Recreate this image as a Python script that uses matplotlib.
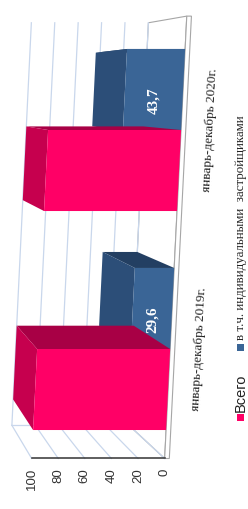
import matplotlib
matplotlib.use("Agg")
import matplotlib.pyplot as plt
from matplotlib.patches import Polygon, Rectangle

# data
categories = ["январь-декабрь 2019г.", "январь-декабрь 2020г."]
series_names = ["Всего", "в т.ч. индивидуальными  застройщиками"]
total = [100, 100]
individual = [29.6, 43.7]
value_labels = ["29,6", "43,7"]
ticks = [0, 20, 40, 60, 80, 100]

# colours: front, top, side
pink = ("#FF0066", "#C6004E", "#A80045")
blue = ("#3A6596", "#2C4E78", "#233F62")
grid_col = "#C9D7EC"

# oblique "3D" view, the whole chart lies on its side (values run right to left)
SKEW = 8.23


def front(v, y):
    return v - SKEW * (y + 0.47), y


def back(v, y):
    vd, yd = front(v, y)
    return vd + 26.9 - 0.12 * vd, yd + 0.1064 - 0.09 * yd


fig = plt.figure(figsize=(2.48, 5.09), dpi=100)
ax = fig.add_axes([0, 0, 1, 1])
ax.set_xlim(124.06, -62.41)
ax.set_ylim(-0.7306, 1.5936)
ax.axis("off")

y_lo, y_hi = -0.5, 1.52

# floor (value = 0 plane) with a thin slab edge
floor = [front(0, y_lo), front(0, y_hi), back(0, y_hi), back(0, y_lo)]
ax.add_patch(Polygon(floor, closed=True, fc="white", ec="#A6A6A6", lw=0.8, zorder=1))
slab = [front(0, y_lo), front(0, y_hi), front(-3.5, y_hi), front(-3.5, y_lo)]
ax.add_patch(Polygon(slab, closed=True, fc="white", ec="#A6A6A6", lw=0.8, zorder=1))

# back wall and side wall grid
for t in ticks:
    (x0, y0), (x1, y1) = back(t, y_lo), back(t, y_hi)
    ax.plot([x0, x1], [y0, y1], color=grid_col, lw=0.9, zorder=2)
    (x2, y2) = front(t, y_lo)
    ax.plot([x2, x0], [y2, y0], color=grid_col, lw=0.9, zorder=2)
(bx0, by0), (bx1, by1) = back(0, y_lo), back(100, y_lo)
ax.plot([bx0, bx1], [by0, by1], color=grid_col, lw=0.9, zorder=2)

# front value axis
(ax0, ay0), (ax1, ay1) = front(0, y_lo), front(100, y_lo)
ax.plot([ax0, ax1], [ay0, ay1], color="#333333", lw=1.1, zorder=3)
for t in ticks:
    ax.annotate(str(t), front(t, y_lo), xytext=(0, -7), textcoords="offset points",
                rotation=90, ha="center", va="top", fontsize=9.5,
                family="Liberation Sans", color="#333333")


def bar3d(v, y0, y1, cols, z):
    side = [front(0, y1), front(v, y1), back(v, y1), back(0, y1)]
    top = [front(v, y0), front(v, y1), back(v, y1), back(v, y0)]
    face = [front(0, y0), front(v, y0), front(v, y1), front(0, y1)]
    ax.add_patch(Polygon(side, closed=True, fc=cols[2], ec="none", zorder=z))
    ax.add_patch(Polygon(top, closed=True, fc=cols[1], ec="none", zorder=z))
    ax.add_patch(Polygon(face, closed=True, fc=cols[0], ec="none", zorder=z + 0.1))


w = 0.37
for i in range(len(categories)):
    c = float(i)
    bar3d(individual[i], c, c + w, blue, 4 + i)
    bar3d(total[i], c - w, c, pink, 4.5 + i)
    ax.text(*front(individual[i] / 2, c + w / 2 - 0.05), value_labels[i], rotation=90,
            ha="center", va="center", color="white", fontsize=11, fontweight="bold",
            family="Liberation Serif", zorder=10)
    ax.annotate(categories[i], front(0, c), xytext=(21, 0), textcoords="offset points",
                rotation=87, ha="center", va="center", fontsize=9.5,
                family="Liberation Serif", color="#222222")

# legend, written along the right edge
W, H = 248, 509
fig.add_artist(Rectangle((237 / W, 1 - 421 / H), 7 / W, 7 / H, transform=fig.transFigure,
                         fc=pink[0], ec="none"))
fig.text(241 / W, 1 - 412 / H, series_names[0], rotation=90, ha="center", va="bottom",
         fontsize=10.5, family="Liberation Sans", color="#222222")
fig.add_artist(Rectangle((237 / W, 1 - 351 / H), 7 / W, 7 / H, transform=fig.transFigure,
                         fc=blue[0], ec="none"))
fig.text(241 / W, 1 - 340 / H, series_names[1], rotation=90, ha="center", va="bottom",
         fontsize=9.3, family="Liberation Serif", color="#222222")

fig.savefig("out.png", dpi=100)
